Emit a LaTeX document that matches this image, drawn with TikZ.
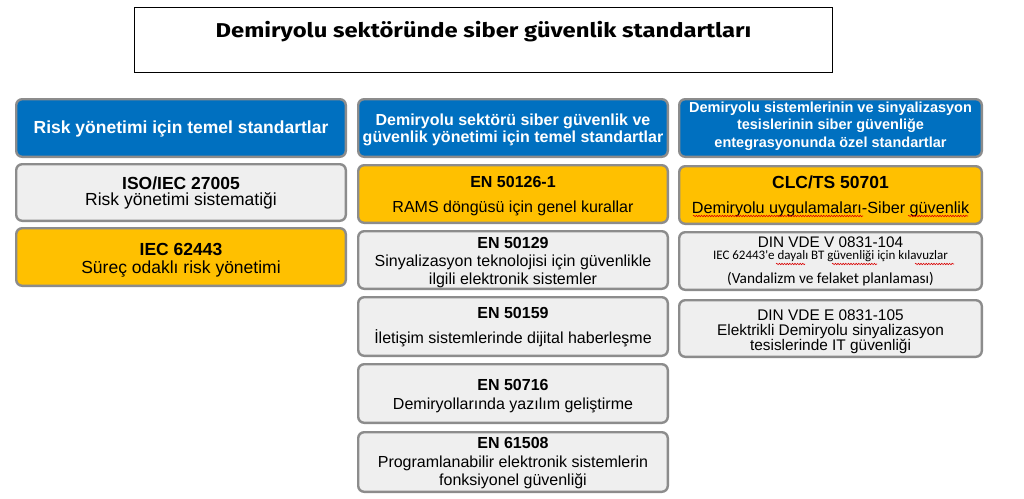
\documentclass[tikz,border=0pt]{standalone}
\usepackage{fontspec}
\setmainfont{Liberation Sans}
\newfontfamily\calfont{Carlito}
\newfontfamily\ttlfont{Fira Sans}
\usetikzlibrary{decorations.pathmorphing}
\definecolor{hblue}{HTML}{0070C0}
\definecolor{hyellow}{HTML}{FFC000}
\definecolor{hgray}{HTML}{EFEFEF}
\definecolor{hborder}{HTML}{8C8C8C}
\newcommand\fs[1]{\fontsize{#1}{#1}\selectfont}
% box: name, fill, x1, y1, x2, y2 (outer edges, px)
\newcommand\bx[6]{\node[box, fill=#2, minimum width={#5-#3-2.4}, minimum height={#6-#4-2.4}] (#1) at ({(#3+#5)/2},{(#4+#6)/2}) {};}
% text line: name, style, size, x, baseline y, text
\newcommand\tl[6]{\node[#2] (#1) at (#4,#5) {\fs{#3}#6};}
\begin{document}
\begin{tikzpicture}[x=1pt,y=-1pt,
  box/.style={draw=hborder, line width=2.4pt, rounded corners=6pt, inner sep=0pt},
  txt/.style={anchor=base, inner sep=0pt, text=black},
  bt/.style={txt, font=\bfseries},
  hd/.style={txt, text=white, font=\bfseries},
  ct/.style={txt, font=\calfont},
  wavy/.style={draw=red!85!black, line width=0.6pt, decorate, decoration={snake, amplitude=0.7pt, segment length=2.6pt}}]
\useasboundingbox[fill=white] (0,0) rectangle (1024,498);

% title
\node[draw=black, line width=1.3pt, minimum width={699-1.3}, minimum height={66-1.3}, inner sep=0pt] (tbox) at (483.5,40) {};
\node[txt, font=\ttlfont\bfseries] (ttl) at (483.5,37.7) {\scalebox{1.19}[1]{\fs{20}Demiryolu sektöründe siber güvenlik standartları}};

% left column
\bx{lh}{hblue}{15}{98}{347}{158}
\bx{lb1}{hgray}{15}{163}{347}{222}
\bx{lb2}{hyellow}{15}{227}{347}{287}
\tl{lh1}{hd}{17.5}{181}{133}{Risk yönetimi için temel standartlar}
\tl{iso1}{bt}{17.5}{181}{189}{ISO/IEC 27005}
\tl{iso2}{txt}{17.5}{181}{205}{Risk yönetimi sistematiği}
\tl{iec1}{bt}{17.5}{181}{255}{IEC 62443}
\tl{iec2}{txt}{17.5}{181}{273}{Süreç odaklı risk yönetimi}

% middle column
\bx{mh}{hblue}{357}{98}{669}{158}
\bx{mb1}{hyellow}{357}{164}{669}{224}
\bx{mb2}{hgray}{357}{230}{669}{290}
\bx{mb3}{hgray}{357}{296}{669}{357}
\bx{mb4}{hgray}{357}{363}{669}{424}
\bx{mb5}{hgray}{357}{431}{669}{493}
\tl{mh1}{hd}{16}{513}{125}{Demiryolu sektörü siber güvenlik ve}
\tl{mh2}{hd}{16}{513}{142}{güvenlik yönetimi için temel standartlar}
\tl{a1}{bt}{16}{513}{187}{EN 50126-1}
\tl{a2}{txt}{16}{513}{212}{RAMS döngüsü için genel kurallar}
\tl{b1}{bt}{16}{513}{248}{EN 50129}
\tl{b2}{txt}{16}{513}{266.5}{Sinyalizasyon teknolojisi için güvenlikle}
\tl{b3}{txt}{16}{513}{284}{ilgili elektronik sistemler}
\tl{c1}{bt}{16}{513}{318}{EN 50159}
\tl{c2}{txt}{16}{513}{343}{İletişim sistemlerinde dijital haberleşme}
\tl{d1}{bt}{16}{513}{390}{EN 50716}
\tl{d2}{txt}{16}{513}{409}{Demiryollarında yazılım geliştirme}
\tl{e1}{bt}{16}{513}{448}{EN 61508}
\tl{e2}{txt}{16}{513}{467}{Programlanabilir elektronik sistemlerin}
\tl{e3}{txt}{16}{513}{485}{fonksiyonel güvenliği}

% right column
\bx{rh}{hblue}{678}{98}{983}{158}
\bx{rb1}{hyellow}{678}{165}{983}{225}
\bx{rb2}{hgray}{678}{231}{983}{291}
\bx{rb3}{hgray}{678}{299}{983}{358}
\tl{rh1}{hd}{14.5}{830.5}{112}{Demiryolu sistemlerinin ve sinyalizasyon}
\tl{rh2}{hd}{14.5}{830.5}{129.5}{tesislerinin siber güvenliğe}
\tl{rh3}{hd}{14.5}{830.5}{147}{entegrasyonunda özel standartlar}
\tl{f1}{bt}{17.5}{830.5}{188}{CLC/TS 50701}
\tl{f2}{txt}{16.2}{830.5}{213}{Demiryolu uygulamaları-Siber güvenlik}
\tl{g1}{txt}{15.3}{830.5}{247}{DIN VDE V 0831-104}
\tl{g2}{ct}{13}{830.5}{259}{IEC 62443'e dayalı BT güvenliği için kılavuzlar}
\tl{g3}{ct}{15.3}{830.5}{283}{(Vandalizm ve felaket planlaması)}
\tl{h1}{txt}{15.4}{830.5}{320}{DIN VDE E 0831-105}
\tl{h2}{txt}{15.4}{830.5}{335}{Elektrikli Demiryolu sinyalizasyon}
\tl{h3}{txt}{15.4}{830.5}{350}{tesislerinde IT güvenliği}

% spell-check underlines
\draw[wavy] (693,216) -- (863,216);
\draw[wavy] (908,216) -- (968,216);
\draw[wavy] (776,264) -- (805,264);
\draw[wavy] (832,264) -- (877,264);
\draw[wavy] (915,264) -- (954,264);
\end{tikzpicture}
\end{document}
